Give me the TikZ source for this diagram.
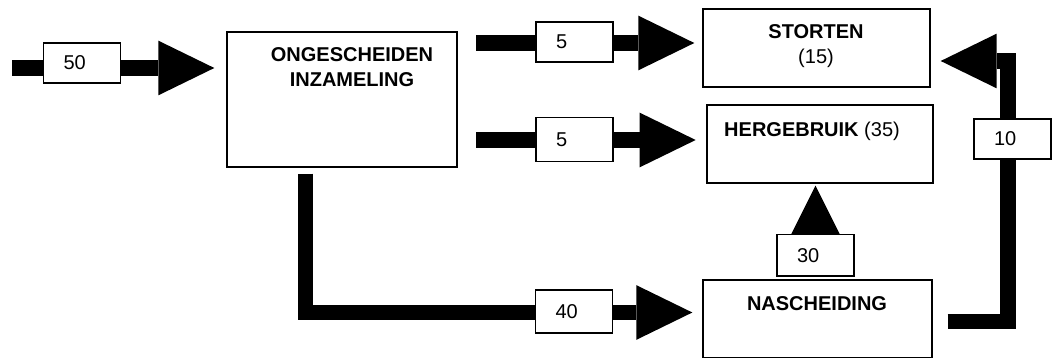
\documentclass[tikz,border=0pt]{standalone}
\usepackage{fontspec}
\setmainfont{Liberation Sans}
\usetikzlibrary{arrows.meta,backgrounds,fit}
\begin{document}
\begin{tikzpicture}[x=0.75pt,y=-0.75pt,
  box/.style={draw, line width=1pt, inner sep=0pt},
  title/.style={font=\fontsize{15}{18.75}\selectfont\bfseries, align=center, inner sep=0pt},
  qty/.style={draw, fill=white, line width=1pt, minimum width=57.75pt, minimum height=30pt,
    inner xsep=15pt, inner ysep=0pt, text width=27.75pt, align=left, font=\fontsize{15}{18}\selectfont},
  flow/.style={line width=11.5pt, line join=miter, -{Triangle[length=42pt,width=41pt,line width=0pt]}},
  flowsmall/.style={line width=11.5pt, -{Triangle[length=37.5pt,width=37.5pt,line width=0pt]}},
]
\useasboundingbox (0,0) rectangle (1059,359);

% boxes
\node[box, fit={(227,32) (457,167)}] (onge) {};
\node[box, fit={(703,9) (930,87)}] (storten) {};
\node[box, fit={(707,105) (933,183)}] (herg) {};
\node[box, fit={(703,280) (932,357.5)}] (nasch) {};

% box texts
\node[title] (tonge) at (352,67.5) {ONGESCHEIDEN\\INZAMELING};
\node[title] (tsto) at (816,46) {STORTEN\\{\mdseries(15)}};
\node[title] (therg) at (812,131) {HERGEBRUIK {\mdseries(35)}};
\node[title] (tnas) at (817,303.5) {NASCHEIDING};

% quantity labels
\node[qty] (l50) at (82,63) {50};
\node[qty] (l5a) at (574.5,42) {5};
\node[qty, minimum height=33pt] (l5b) at (574.5,139.5) {5};
\node[qty, minimum height=32pt] (l40) at (574,311.5) {40};
\node[qty, minimum height=31pt] (l30) at (815.5,255.5) {30};
\node[qty] (l10) at (1012.5,139) {10};

% flows
\begin{pgfonlayer}{background}
\coordinate (cin) at (12,68);
\draw[flow, shorten >=9pt] (cin) -- (onge.west |- cin);
\coordinate (c5a) at (476,43);
\draw[flow, shorten >=6pt] (c5a) -- (storten.west |- c5a);
\coordinate (c5b) at (476,140);
\draw[flow, shorten >=8pt] (c5b) -- (herg.west |- c5b);
\coordinate (k40) at (305.5,312.5);
\draw[flow, shorten <=4.5pt, shorten >=7.5pt] (onge.south -| k40) -- (k40) -- (nasch.west |- k40);
\draw[flowsmall, shorten >=1.5pt] (l30.center) -- (herg.south -| l30.center);
\coordinate (k10a) at (1008,321.5);
\coordinate (k10b) at (1008,61);
\draw[flow, shorten <=11.25pt, shorten >=7.5pt] (nasch.east |- k10a) -- (k10a) -- (k10b) -- (storten.east |- k10b);
\end{pgfonlayer}
\end{tikzpicture}
\end{document}
